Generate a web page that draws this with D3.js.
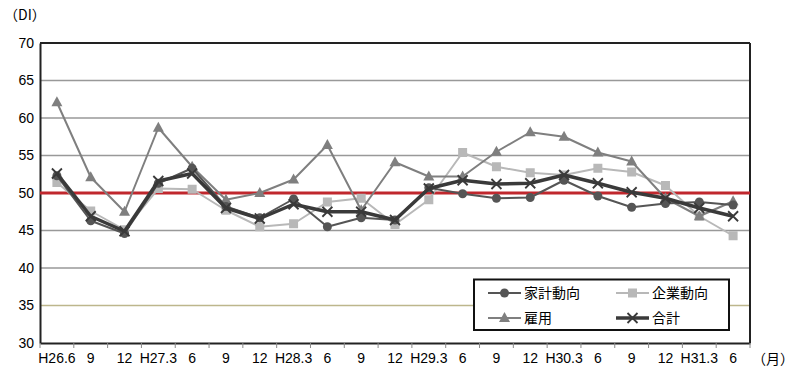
<!DOCTYPE html>
<html><head><meta charset="utf-8">
<script src="https://cdn.jsdelivr.net/npm/d3@7"></script>
<style>
html,body{margin:0;padding:0;background:#fff;}
svg{display:block;font-family:"Noto Sans CJK JP","DejaVu Sans",sans-serif;}
</style></head>
<body>
<svg id="c" width="795" height="372"></svg>
<script>
const categories = ["H26.6","9","12","H27.3","6","9","12","H28.3","6","9","12","H29.3","6","9","12","H30.3","6","9","12","H31.3","6"];
const kakei  = [52.3,46.3,44.6,51.3,53.3,48.2,46.7,49.2,45.5,46.7,46.4,50.7,49.9,49.3,49.4,51.7,49.6,48.1,48.6,48.8,48.4];
const kigyo  = [51.4,47.6,45.1,50.6,50.5,47.7,45.5,45.9,48.8,49.3,45.8,49.1,55.4,53.5,52.7,52.4,53.3,52.8,51.0,46.9,44.3];
const koyo   = [62.1,52.1,47.5,58.7,53.5,49.1,50.0,51.8,56.4,47.7,54.1,52.2,52.2,55.5,58.1,57.5,55.4,54.2,49.3,46.9,48.9];
const gokei  = [52.6,46.9,44.9,51.6,52.6,48.0,46.6,48.5,47.5,47.5,46.4,50.6,51.7,51.2,51.3,52.4,51.3,50.1,49.3,48.0,46.9];
const seriesNames = ["家計動向","企業動向","雇用","合計"];
const yTicks = [30,35,40,45,50,55,60,65,70];

const svg = d3.select("#c");
const L=40, R=750, T=43, B=343;
const x = d3.scaleBand().domain(d3.range(categories.length)).range([L,R]);
const y = d3.scaleLinear().domain([30,70]).range([B,T]);
const cx = i => x(i)+x.bandwidth()/2;

// gridlines
svg.append("g").selectAll("line").data(yTicks.filter(v=>v!==30&&v!==70&&v!==50)).join("line")
  .attr("x1",L).attr("x2",R).attr("y1",d=>y(d)).attr("y2",d=>y(d))
  .attr("stroke",d=>d===35?"#bdb68c":"#999999").attr("stroke-width",1.5);
// frame
svg.append("line").attr("x1",L).attr("x2",R).attr("y1",T).attr("y2",T).attr("stroke","#222").attr("stroke-width",2);
svg.append("line").attr("x1",R).attr("x2",R).attr("y1",T).attr("y2",B).attr("stroke","#222").attr("stroke-width",2);

// y axis
const ya = svg.append("g").attr("transform",`translate(${L},0)`)
  .call(d3.axisLeft(y).tickValues(yTicks).tickSize(0).tickPadding(6));
ya.select(".domain").attr("stroke","#222").attr("stroke-width",2);
ya.selectAll("text").attr("font-size",14).attr("fill","#000").attr("font-family","Liberation Sans, Arial, sans-serif");

// x axis
const xa = svg.append("g").attr("transform",`translate(0,${B})`)
  .call(d3.axisBottom(x).tickFormat(i=>categories[i]).tickSize(0).tickPadding(10));
xa.select(".domain").attr("stroke","#222").attr("stroke-width",2);
xa.selectAll("text").attr("font-size",14).attr("fill","#000").attr("font-family","Liberation Sans, Arial, sans-serif");
svg.append("g").selectAll("line").data(d3.range(categories.length+1)).join("line")
  .attr("x1",i=>L+i*x.step()).attr("x2",i=>L+i*x.step()).attr("y1",B).attr("y2",B+5)
  .attr("stroke","#888").attr("stroke-width",1);

// red 50 line
svg.append("line").attr("x1",L).attr("x2",R).attr("y1",y(50)).attr("y2",y(50)).attr("stroke","#c0272d").attr("stroke-width",3);

const line = d3.line().x((d,i)=>cx(i)).y(d=>y(d));
const specs = [
  {name:seriesNames[1], data:kigyo, color:"#b8b8b8", w:2, marker:"square"},
  {name:seriesNames[2], data:koyo,  color:"#7f7f7f", w:2, marker:"triangle"},
  {name:seriesNames[0], data:kakei, color:"#555555", w:2, marker:"circle"},
  {name:seriesNames[3], data:gokei, color:"#3a3a3a", w:3.5, marker:"x"},
];
function drawMarker(g, type, px, py, color){
  if(type==="circle") g.append("circle").attr("cx",px).attr("cy",py).attr("r",4.5).attr("fill",color);
  else if(type==="square") g.append("rect").attr("x",px-4.5).attr("y",py-4.5).attr("width",9).attr("height",9).attr("fill",color);
  else if(type==="triangle") g.append("path").attr("d",`M${px},${py-6}L${px+5.5},${py+4}L${px-5.5},${py+4}Z`).attr("fill",color);
  else if(type==="x") g.append("path").attr("d",`M${px-5},${py-5}L${px+5},${py+5}M${px-5},${py+5}L${px+5},${py-5}`).attr("stroke",color).attr("stroke-width",1.8);
}
specs.forEach(s=>{
  const g = svg.append("g");
  g.append("path").datum(s.data).attr("d",line).attr("fill","none").attr("stroke",s.color).attr("stroke-width",s.w).attr("stroke-linejoin","round");
  s.data.forEach((v,i)=>drawMarker(g,s.marker,cx(i),y(v),s.color));
});

// legend
const lg = svg.append("g");
lg.append("rect").attr("x",474).attr("y",279.5).attr("width",255).attr("height",50.5).attr("fill","#fff").attr("stroke","#111").attr("stroke-width",2);
const legItems = [
  {s:specs[2], lx:488, ly:293},
  {s:specs[0], lx:616, ly:293},
  {s:specs[1], lx:488, ly:318},
  {s:specs[3], lx:616, ly:318},
];
legItems.forEach(it=>{
  lg.append("line").attr("x1",it.lx).attr("x2",it.lx+33).attr("y1",it.ly).attr("y2",it.ly).attr("stroke",it.s.color).attr("stroke-width",it.s.w);
  drawMarker(lg,it.s.marker,it.lx+16.5,it.ly,it.s.color);
  lg.append("text").attr("x",it.lx+36).attr("y",it.ly+5).attr("font-size",14).attr("fill","#000").text(it.s.name);
});

svg.append("text").attr("x",4).attr("y",20).attr("font-size",14).attr("fill","#000").text("（DI）");
svg.append("text").attr("x",752).attr("y",364).attr("font-size",14).attr("fill","#000").text("（月）");
</script>
</body></html>
